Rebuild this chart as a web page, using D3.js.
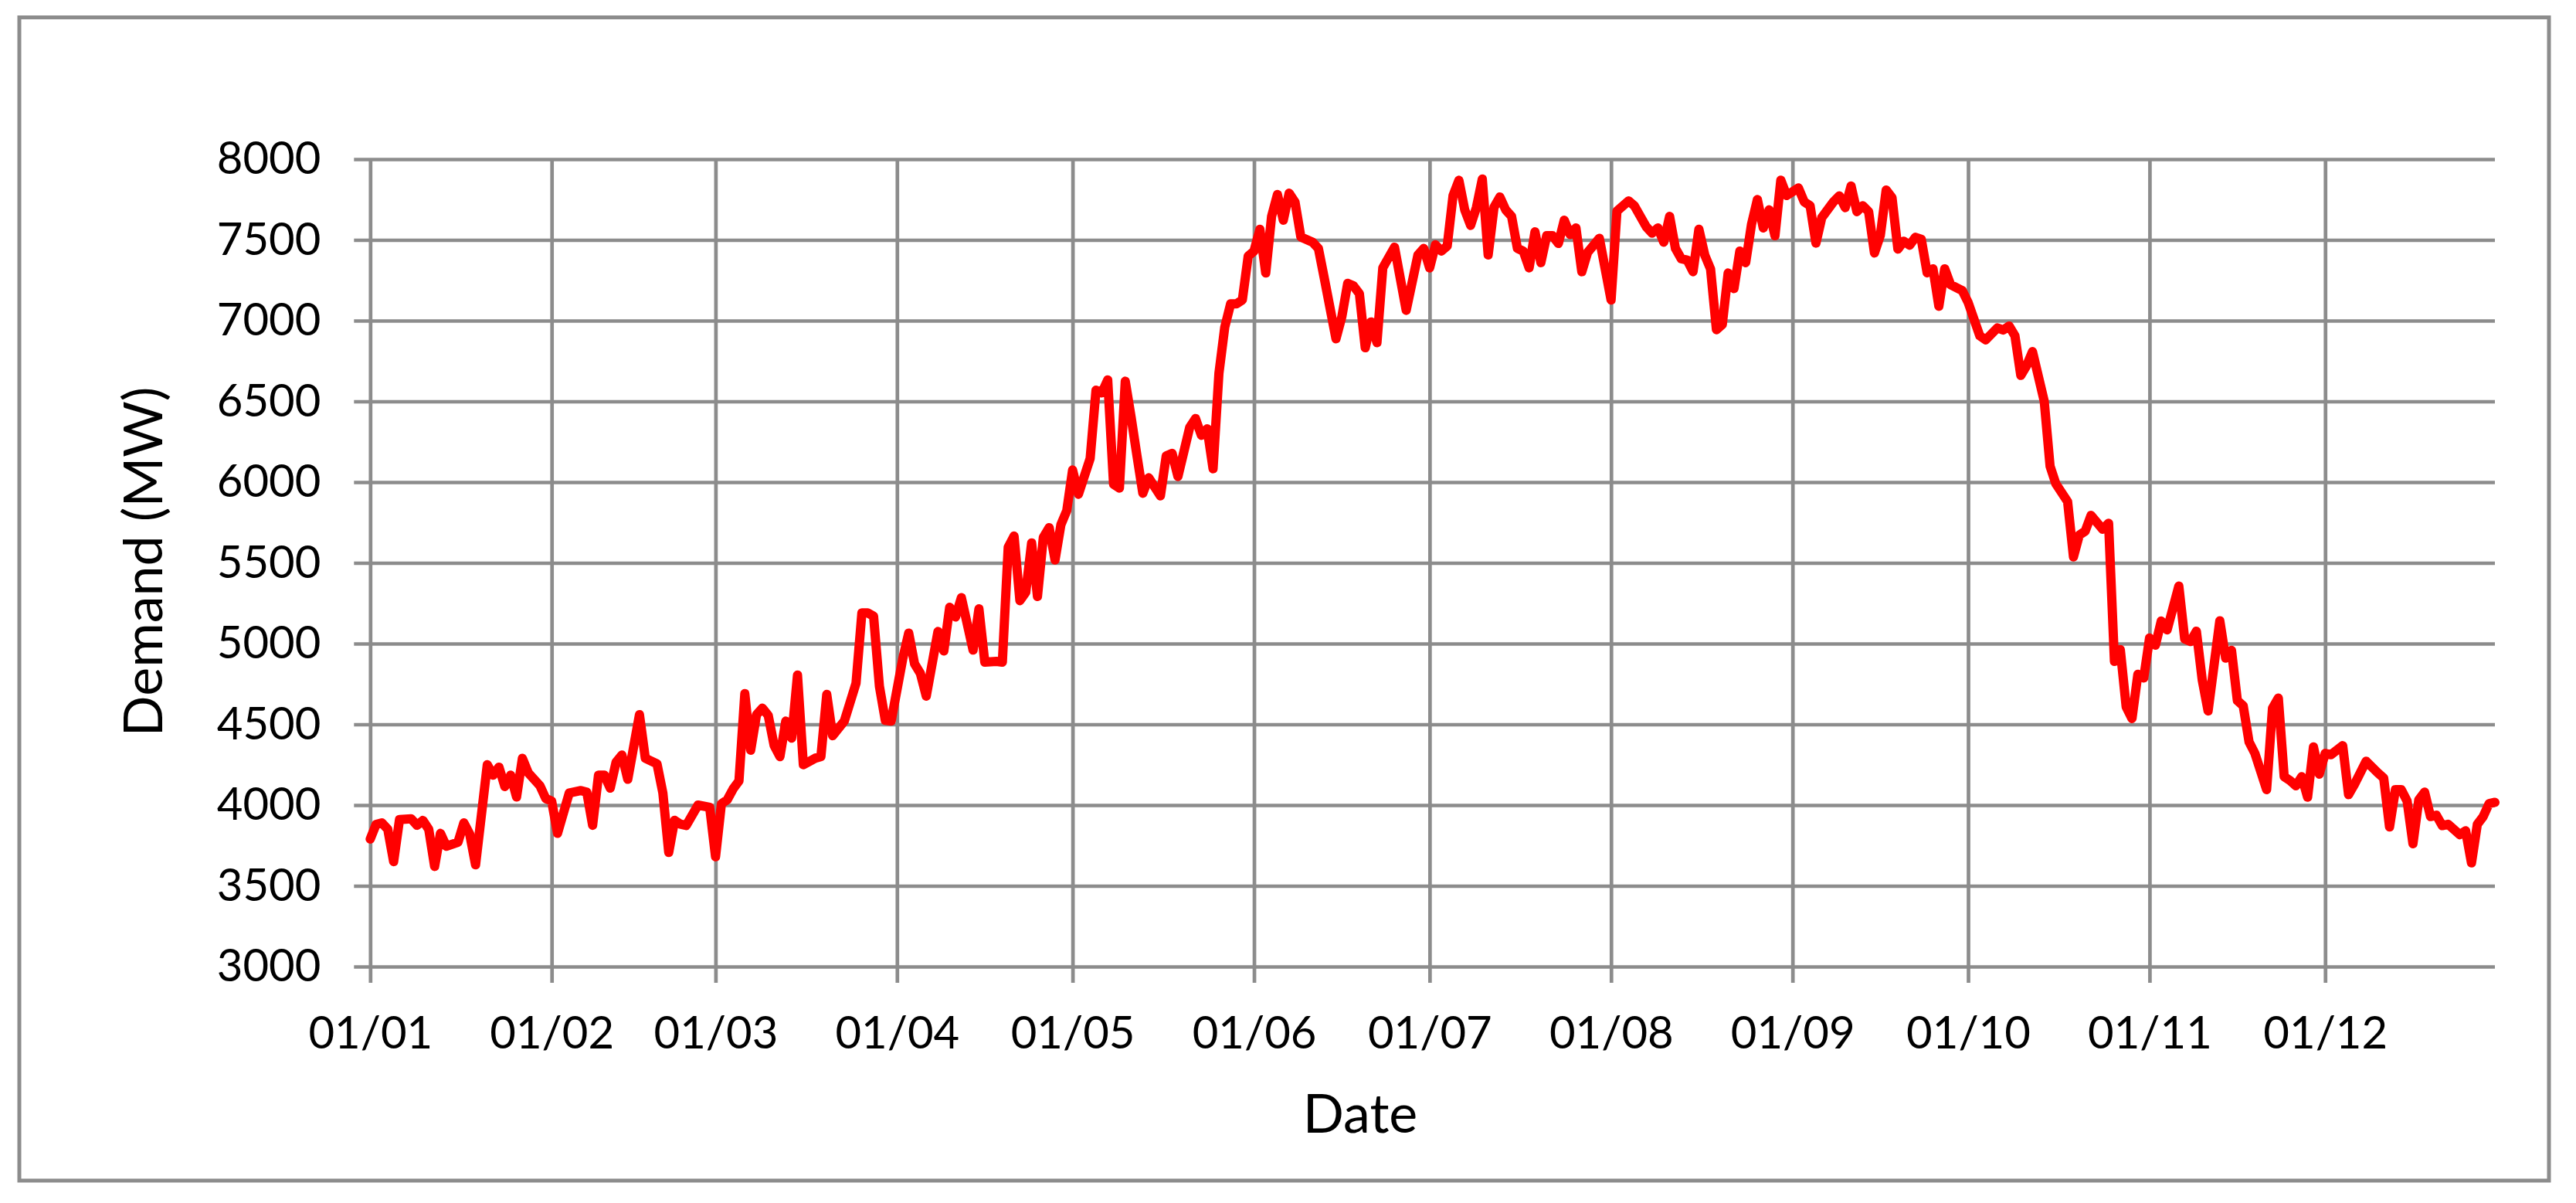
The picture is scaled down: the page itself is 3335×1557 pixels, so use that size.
<!DOCTYPE html>
<html>
<head>
<meta charset="utf-8">
<script src="https://cdn.jsdelivr.net/npm/d3@7"></script>
<style>
  body { margin: 0; background: #fff; }
  text { font-family: Lato, "Open Sans", sans-serif; fill: #000; }
</style>
</head>
<body>
<div id="chart"></div>
<script>
// daily demand (dd/mm)
const dates = [
  "01/01","02/01","03/01","04/01","05/01","06/01","08/01","09/01","10/01","11/01","12/01","13/01","14/01","16/01","17/01","18/01","19/01","21/01","22/01","23/01","24/01","25/01","26/01","27/01","28/01","30/01","31/01",
  "01/02","02/02","04/02","06/02","07/02","08/02","09/02","10/02","11/02","12/02","13/02","14/02","16/02","17/02","19/02","20/02","21/02","22/02","23/02","24/02","26/02","28/02",
  "01/03","02/03","03/03","04/03","05/03","06/03","07/03","08/03","09/03","10/03","11/03","12/03","13/03","14/03","15/03","16/03","18/03","19/03","20/03","21/03","23/03","25/03","26/03","27/03","28/03","29/03","30/03","31/03",
  "02/04","03/04","04/04","05/04","06/04","08/04","09/04","10/04","11/04","12/04","14/04","15/04","16/04","18/04","19/04","20/04","21/04","22/04","23/04","24/04","25/04","26/04","27/04","28/04","29/04","30/04",
  "01/05","02/05","04/05","05/05","06/05","07/05","08/05","09/05","10/05","11/05","12/05","13/05","14/05","16/05","17/05","18/05","19/05","21/05","22/05","23/05","24/05","25/05","26/05","27/05","28/05","29/05","30/05","31/05",
  "01/06","02/06","03/06","04/06","05/06","06/06","07/06","08/06","09/06","11/06","12/06","13/06","15/06","16/06","17/06","18/06","19/06","20/06","21/06","22/06","23/06","25/06","27/06","29/06","30/06",
  "01/07","02/07","03/07","04/07","05/07","06/07","07/07","08/07","09/07","10/07","11/07","12/07","13/07","14/07","15/07","16/07","17/07","18/07","19/07","20/07","21/07","22/07","23/07","24/07","25/07","26/07","27/07","28/07","30/07",
  "01/08","02/08","04/08","05/08","07/08","08/08","09/08","10/08","11/08","12/08","13/08","14/08","15/08","16/08","17/08","18/08","19/08","20/08","21/08","22/08","23/08","24/08","25/08","26/08","27/08","28/08","29/08","30/08","31/08",
  "02/09","03/09","04/09","05/09","06/09","08/09","09/09","10/09","11/09","12/09","13/09","14/09","15/09","16/09","17/09","18/09","19/09","20/09","21/09","22/09","23/09","24/09","25/09","26/09","27/09","28/09","30/09",
  "01/10","03/10","04/10","06/10","07/10","08/10","09/10","10/10","11/10","12/10","14/10","15/10","16/10","18/10","19/10","20/10","21/10","22/10","24/10","25/10","26/10","27/10","28/10","29/10","30/10","31/10",
  "01/11","02/11","03/11","04/11","06/11","07/11","08/11","09/11","10/11","11/11","13/11","14/11","15/11","16/11","17/11","18/11","19/11","21/11","22/11","23/11","24/11","25/11","26/11","27/11","28/11","29/11","30/11",
  "01/12","02/12","04/12","05/12","06/12","08/12","10/12","11/12","12/12","13/12","14/12","15/12","16/12","17/12","18/12","19/12","20/12","21/12","22/12","24/12","25/12","26/12","27/12","28/12","29/12","30/12"
];

const demand = [
  3790,3880,3890,3850,3650,3910,3915,3875,3905,3850,3620,3825,3745,3770,3890,3820,3630,4250,4185,4235,4115,4185,4050,4290,4200,4120,4040,
  4025,3825,4075,4090,4080,3875,4185,4185,4105,4265,4310,4160,4560,4290,4255,4075,3707,3906,3882,3874,4000,3986,
  3680,4008,4033,4100,4150,4690,4340,4560,4600,4555,4370,4300,4520,4415,4805,4250,4290,4300,4685,4430,4520,4755,5190,5190,5170,4735,4525,4520,
  4910,5065,4875,4815,4675,5075,4955,5225,5165,5285,4960,5215,4885,4890,4885,5597,5666,5266,5318,5623,5292,5657,5718,5518,5736,5823,
  6075,5925,6147,6569,6553,6633,5987,5963,6625,6402,6163,5931,6027,5915,6163,6178,6035,6338,6394,6290,6330,6083,6673,6960,7104,7104,7128,7399,
  7431,7566,7295,7646,7781,7622,7789,7734,7518,7486,7447,7263,6888,7024,7231,7215,7167,6832,6992,6864,7327,7455,7064,7407,7447,
  7327,7470,7431,7462,7774,7869,7686,7590,7702,7877,7407,7702,7766,7686,7646,7447,7431,7327,7550,7359,7526,7526,7478,7622,7534,7574,7303,7423,7510,
  7128,7678,7742,7710,7582,7542,7574,7486,7646,7447,7383,7375,7303,7566,7407,7319,6944,6976,7295,7199,7431,7359,7598,7750,7574,7686,7526,7870,7775,
  7822,7736,7712,7480,7638,7736,7773,7700,7834,7675,7712,7675,7419,7528,7809,7761,7443,7492,7467,7516,7504,7296,7321,7089,7321,7223,7186,
  7113,6906,6881,6955,6942,6967,6906,6661,6722,6808,6502,6099,5989,5879,5537,5672,5696,5794,5708,5745,4890,4963,4609,4536,4810,4787,
  5035,4990,5140,5085,5356,5029,5013,5077,4774,4583,5141,4910,4958,4647,4615,4391,4320,4096,4599,4663,4176,4152,4120,4176,4049,4360,4192,
  4320,4312,4368,4065,4128,4272,4200,4168,3865,4096,4096,4025,3761,4033,4080,3929,3937,3873,3881,3817,3841,3642,3881,3929,4009,4017
];

const yTicks = [3000, 3500, 4000, 4500, 5000, 5500, 6000, 6500, 7000, 7500, 8000];
const xTickLabels = ["01/01","01/02","01/03","01/04","01/05","01/06","01/07","01/08","01/09","01/10","01/11","01/12"];
const xStart = "01/01", xEnd = "30/12";

const width = 3335, height = 1557;
const plot = { left: 479.3, right: 3230, top: 206, bottom: 1251 };
const gridColor = "#8c8c8c";

const parseDate = d3.timeParse("%d/%m");
const data = dates.map((d, i) => ({ date: parseDate(d), value: demand[i] }));

const svg = d3.select("#chart").append("svg")
  .attr("width", width)
  .attr("height", height);

svg.append("rect")
  .attr("width", width).attr("height", height)
  .attr("fill", "#fff");

// outer chart border
svg.append("rect")
  .attr("x", 25).attr("y", 22.5)
  .attr("width", 3275).attr("height", 1505.5)
  .attr("fill", "none")
  .attr("stroke", gridColor)
  .attr("stroke-width", 5);

const x = d3.scaleTime()
  .domain([parseDate(xStart), parseDate(xEnd)])
  .range([plot.left, plot.right]);

const y = d3.scaleLinear()
  .domain([3000, 8000])
  .range([plot.bottom, plot.top]);

// y axis + horizontal grid
const yAxis = svg.append("g")
  .attr("transform", `translate(${plot.left},0)`)
  .call(d3.axisLeft(y)
    .tickValues(yTicks)
    .tickSizeInner(-(plot.right - plot.left))
    .tickSizeOuter(0)
    .tickPadding(64)
    .tickFormat(d3.format("d")));
yAxis.select(".domain").remove();
yAxis.selectAll(".tick line")
  .attr("x1", -21)
  .attr("stroke", gridColor)
  .attr("stroke-width", 4.7);
yAxis.selectAll(".tick text")
  .attr("font-size", 58)
  .attr("font-family", "Lato, 'Open Sans', sans-serif");

// x axis + vertical grid
const xAxis = svg.append("g")
  .attr("transform", `translate(0,${plot.bottom})`)
  .call(d3.axisBottom(x)
    .tickValues(xTickLabels.map(parseDate))
    .tickSizeInner(-(plot.bottom - plot.top))
    .tickSizeOuter(0)
    .tickPadding(64.5)
    .tickFormat(d3.timeFormat("%d/%m")));
xAxis.select(".domain").remove();
xAxis.selectAll(".tick line")
  .attr("y1", 21)
  .attr("stroke", gridColor)
  .attr("stroke-width", 4.7);
xAxis.selectAll(".tick text")
  .attr("font-size", 58)
  .attr("font-family", "Lato, 'Open Sans', sans-serif");

// demand line
const line = d3.line()
  .x(d => x(d.date))
  .y(d => y(d.value));

svg.append("path")
  .datum(data)
  .attr("fill", "none")
  .attr("stroke", "#ff0000")
  .attr("stroke-width", 12)
  .attr("stroke-linejoin", "round")
  .attr("stroke-linecap", "round")
  .attr("d", line);

// axis titles
svg.append("text")
  .attr("x", 1761)
  .attr("y", 1466)
  .attr("text-anchor", "middle")
  .attr("font-size", 70)
  .text("Date");

svg.append("text")
  .attr("transform", `translate(210,727) rotate(-90)`)
  .attr("text-anchor", "middle")
  .attr("font-size", 70)
  .text("Demand (MW)");
</script>
</body>
</html>
